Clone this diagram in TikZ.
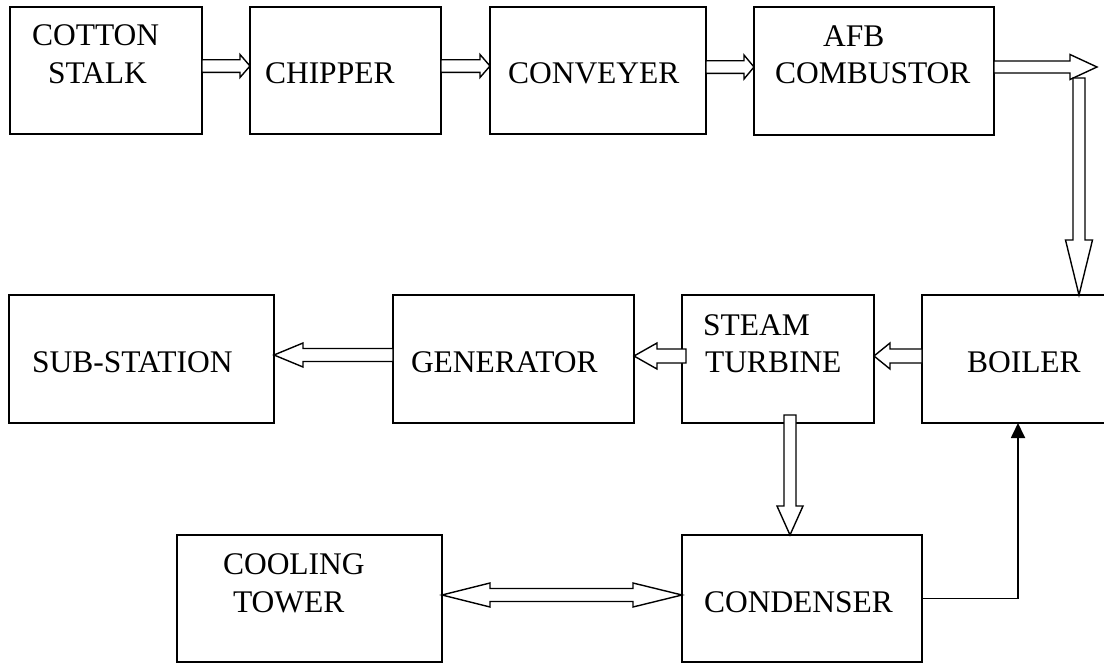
\documentclass[tikz,border=0pt]{standalone}
\usepackage{fontspec}
\setmainfont{Liberation Serif}
\usetikzlibrary{calc,arrows.meta}
\tikzset{
 box/.style={draw, line width=2pt, inner sep=0pt, outer sep=0pt},
 blk/.style={draw, fill=white, line width=1.4pt, line join=miter},
 lbl/.style={anchor=base west, inner sep=0pt, outer sep=0pt, font=\fontsize{31.5}{37}\selectfont},
 thin/.style={draw, line width=1.8pt},
}
% horizontal block arrow: tail, tip, y, shaft half, head half, head length (negative = pointing left)
\newcommand\harr[6]{\draw[blk] let \p1=(#1), \p2=(#2), \p3=(0,#3) in
 (\x1,{\y3+#4pt}) -- ({\x2-(#6pt)},{\y3+#4pt}) -- ({\x2-(#6pt)},{\y3+#5pt}) -- (\x2,\y3)
 -- ({\x2-(#6pt)},{\y3-#5pt}) -- ({\x2-(#6pt)},{\y3-#4pt}) -- (\x1,{\y3-#4pt}) -- cycle;}
% vertical block arrow pointing down: tail, tip, x, shaft half, head half, head length
\newcommand\varr[6]{\draw[blk] let \p1=(#1), \p2=(#2), \p3=(#3,0) in
 ({\x3-#4pt},\y1) -- ({\x3-#4pt},{\y2+#6pt}) -- ({\x3-#5pt},{\y2+#6pt}) -- (\x3,\y2)
 -- ({\x3+#5pt},{\y2+#6pt}) -- ({\x3+#4pt},{\y2+#6pt}) -- ({\x3+#4pt},\y1) -- cycle;}
\begin{document}
\begin{tikzpicture}[x=1pt,y=-1pt]
\useasboundingbox (0,0) rectangle (1104,664);
\clip (0,0) rectangle (1104,664);
% top row
\node[box,minimum width=192pt,minimum height=127pt] (cotton) at (106,70.5) {};
\node[box,minimum width=191pt,minimum height=127pt] (chipper) at (345.5,70.5) {};
\node[box,minimum width=216pt,minimum height=127pt] (conveyer) at (598,70.5) {};
\node[box,minimum width=240pt,minimum height=128pt] (afb) at (874,71) {};
% middle row
\node[box,minimum width=265pt,minimum height=128pt] (sub) at (141.5,359) {};
\node[box,minimum width=241pt,minimum height=128pt] (gen) at (513.5,359) {};
\node[box,minimum width=192pt,minimum height=128pt] (turb) at (778,359) {};
\node[box,minimum width=198pt,minimum height=128pt] (boiler) at (1021,359) {};
% bottom row
\node[box,minimum width=265pt,minimum height=127pt] (cool) at (309.5,598.5) {};
\node[box,minimum width=240pt,minimum height=127pt] (cond) at (802,598.5) {};
% labels
\node[lbl] (tcot) at (32,45) {COTTON};
\node[lbl] (tsta) at (48,83) {STALK};
\node[lbl] (tchi) at (265,83) {CHIPPER};
\node[lbl] (tcon) at (508,83) {CONVEYER};
\node[lbl] (tafb) at (823,46) {AFB};
\node[lbl] (tcom) at (775,83) {COMBUSTOR};
\node[lbl] (tsub) at (32,372) {SUB-STATION};
\node[lbl] (tgen) at (411,372) {GENERATOR};
\node[lbl] (tste) at (703,335) {STEAM};
\node[lbl] (ttur) at (705,372) {TURBINE};
\node[lbl] (tboi) at (967,372) {BOILER};
\node[lbl] (tcoo) at (223,574) {COOLING};
\node[lbl] (ttow) at (233,612) {TOWER};
\node[lbl] (tcnd) at (704,612) {CONDENSER};
% top row arrows
\harr{cotton.east}{chipper.west}{66}{6.3}{11.5}{10}
\harr{chipper.east}{conveyer.west}{66}{6.3}{11.5}{10}
\harr{conveyer.east}{afb.west}{67}{6.3}{12}{10}
\coordinate (afbtip) at (1097,67);
\coordinate (vtop) at (1079,78);
\harr{afb.east}{afbtip}{67}{6}{12.5}{27}
\varr{vtop}{boiler.north}{1079}{6}{13.5}{55}
% middle row arrows
\harr{boiler.west}{turb.east}{356}{7}{13}{-16}
\coordinate (turbtail) at (686,356);
\harr{turbtail}{gen.east}{356}{7}{13}{-23}
\harr{gen.west}{sub.east}{355}{6.5}{12}{-29}
% turbine to condenser
\coordinate (ttail) at (790,415);
\varr{ttail}{cond.north}{790}{6}{13}{29}
% double arrow cooling <-> condenser
\draw[blk] let \p1=(cool.east), \p2=(cond.west), \p3=(0,595) in
 (\x1,\y3) -- ({\x1+48pt},{\y3+12pt}) -- ({\x1+48pt},{\y3+6.5pt}) -- ({\x2-49pt},{\y3+6.5pt})
 -- ({\x2-49pt},{\y3+12pt}) -- (\x2,\y3) -- ({\x2-49pt},{\y3-12pt}) -- ({\x2-49pt},{\y3-6.5pt})
 -- ({\x1+48pt},{\y3-6.5pt}) -- ({\x1+48pt},{\y3-12pt}) -- cycle;
% condenser to boiler
\draw[thin,-{Triangle[length=15pt,width=14pt]}] (cond.east) -| ($(boiler.south)+(-3,0)$);
\end{tikzpicture}
\end{document}
